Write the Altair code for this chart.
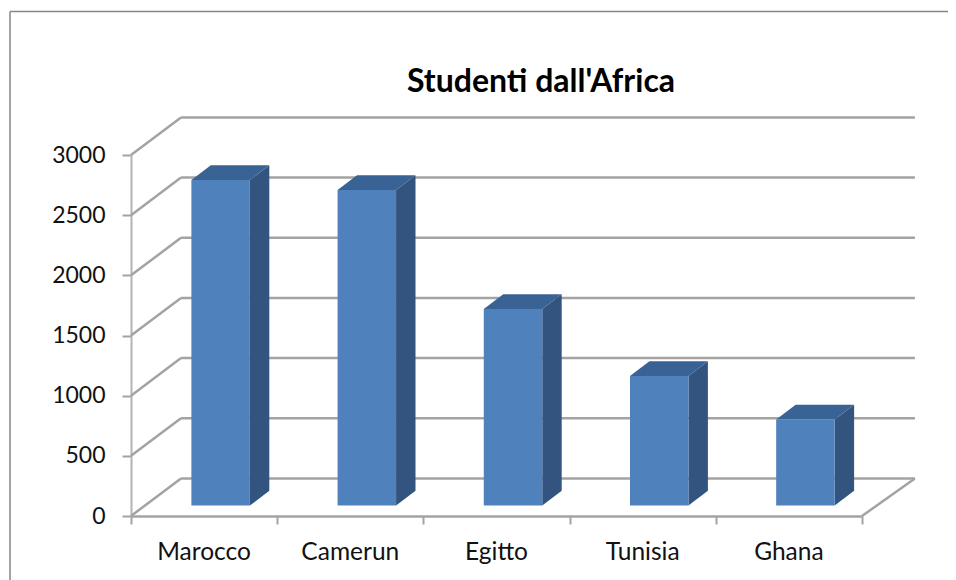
import altair as alt
import pandas as pd

categories = ["Marocco", "Camerun", "Egitto", "Tunisia", "Ghana"]
values = [2705, 2622, 1633, 1076, 715]
grid_values = [0, 500, 1000, 1500, 2000, 2500, 3000]
tick_positions = [0, 1, 2, 3, 4, 5]
title_text = "Studenti dall'Africa"

FONT = "Lato"
GREY = "#a3a3a3"
FRONT = "#4f81bd"
SIDE = "#32547f"
TOP = "#3a6395"
FRAME = "#868686"

# 3-D geometry expressed in data units (categories on x, students on y)
WALL_DX_LEFT, WALL_DX_RIGHT, WALL_DY = 0.342, 0.362, 312
BAR_BASE = 87
BAR_LEFT, BAR_WIDTH = 0.413, 0.40
BAR_DX, BAR_DY = 0.133, 122

x_scale = alt.Scale(domain=[0, 5], nice=False, zero=False)
y_scale = alt.Scale(domain=[0, 3000], nice=False, zero=False)
X = lambda f="x": alt.X(f"{f}:Q", scale=x_scale, title=None, axis=alt.Axis(
    values=tick_positions, labels=False, grid=False, domainColor=GREY, domainWidth=2.5,
    tickColor=GREY, tickWidth=2, tickSize=8, title=None))
Y = lambda f="y": alt.Y(f"{f}:Q", scale=y_scale, title=None, axis=alt.Axis(
    values=grid_values, grid=False, domainColor="#b4b4b4", domainWidth=2, tickColor=GREY,
    tickWidth=2, tickSize=9, labelFont=FONT, labelFontSize=23, labelColor="#111111",
    labelPadding=17, format="d", title=None))

walls = pd.DataFrame([
    {"x": 0, "x2": WALL_DX_LEFT, "xe": 5 + WALL_DX_RIGHT, "y": g, "yb": g + WALL_DY} for g in grid_values
])
back_grid = alt.Chart(walls).mark_rule(color=GREY, strokeWidth=2.5).encode(
    x=X("x2"), x2="xe:Q", y=Y("yb"))
side_grid = alt.Chart(walls).mark_rule(color=GREY, strokeWidth=2.5).encode(
    x=X("x"), x2="x2:Q", y=Y("y"), y2="yb:Q")
floor_edge = alt.Chart(pd.DataFrame([{"x": 5, "x2": 5 + WALL_DX_RIGHT, "y": 0, "y2": WALL_DY}])).mark_rule(
    color=GREY, strokeWidth=2.5).encode(x=X("x"), x2="x2:Q", y=Y("y"), y2="y2:Q")

front_rows, side_rows, top_rows = [], [], []
for i, (c, v) in enumerate(zip(categories, values)):
    l = i + BAR_LEFT
    r = l + BAR_WIDTH
    front_rows.append({"c": c, "x": l, "x2": r, "y": BAR_BASE, "y2": BAR_BASE + v})
    side_rows += [
        {"c": c, "x": r, "y": BAR_BASE, "y2": BAR_BASE + v},
        {"c": c, "x": r + BAR_DX, "y": BAR_BASE + BAR_DY, "y2": BAR_BASE + BAR_DY + v},
    ]
    top_rows += [
        {"c": c, "x": l, "x2": r, "y": BAR_BASE + v},
        {"c": c, "x": l + BAR_DX, "x2": r + BAR_DX, "y": BAR_BASE + v + BAR_DY},
    ]

sides = alt.Chart(pd.DataFrame(side_rows)).mark_area(color=SIDE, opacity=1).encode(
    x=X("x"), y=Y("y"), y2="y2:Q", detail="c:N")
tops = alt.Chart(pd.DataFrame(top_rows)).mark_area(color=TOP, opacity=1, orient="horizontal").encode(
    x=X("x"), x2="x2:Q", y=Y("y"), detail="c:N")
fronts = alt.Chart(pd.DataFrame(front_rows)).mark_rect(color=FRONT).encode(
    x=X("x"), x2="x2:Q", y=Y("y"), y2="y2:Q")

labels = alt.Chart(pd.DataFrame({"c": categories, "x": [i + 0.5 for i in range(len(categories))]})).mark_text(
    font=FONT, fontSize=24.5, color="#111111", baseline="middle", align="center"
).encode(x=X("x"), y=alt.value(398), text="c:N")

title_mark = alt.Chart(pd.DataFrame({"t": [title_text]})).mark_text(
    font=FONT, fontSize=32, fontWeight="bold", color="#000000", baseline="middle", align="center"
).encode(x=alt.value(410), y=alt.value(-73), text="t:N")

frame_top = alt.Chart(pd.DataFrame({"a": [0]})).mark_rule(color=FRAME, strokeWidth=1.5).encode(
    x=alt.value(-121), x2=alt.value(825), y=alt.value(-143.5))
frame_left = alt.Chart(pd.DataFrame({"a": [0]})).mark_rule(color=FRAME, strokeWidth=1.5).encode(
    x=alt.value(-121), y=alt.value(-143.5), y2=alt.value(425))

chart = alt.layer(
    back_grid, side_grid, floor_edge, sides, tops, fronts, labels, title_mark, frame_top, frame_left
).properties(
    width=731, height=361,
    autosize=alt.AutoSizeParams(type="none"),
    padding={"left": 123, "top": 147, "right": 86, "bottom": 64},
).configure_view(stroke=None)

chart.save("out.html", embed_options={"renderer": "svg", "actions": False})
